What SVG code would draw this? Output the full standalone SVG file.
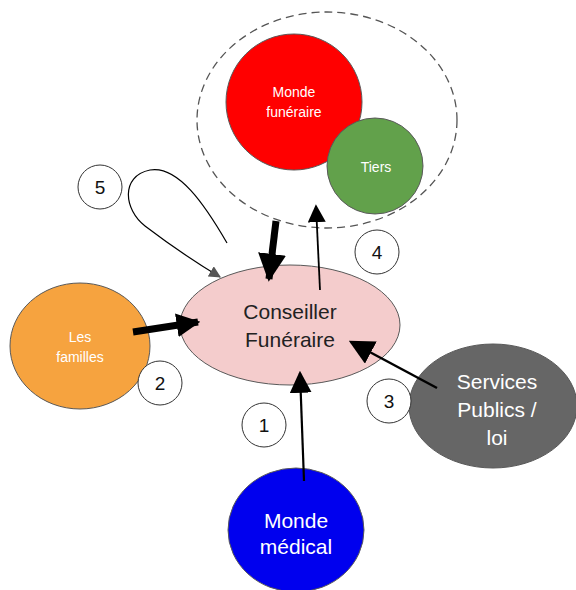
<svg xmlns="http://www.w3.org/2000/svg" width="576" height="590" viewBox="0 0 576 590">
  <defs>
    <style>
      text { font-family: "Liberation Sans", Arial, sans-serif; text-anchor: middle; }
      .node { stroke: #595959; stroke-width: 1; }
      .lbl { fill: #ffffff; }
      .num { fill: #ffffff; stroke: #333333; stroke-width: 1; }
      .numt { font-size: 19px; fill: #111111; }
      .edge { fill: none; stroke: #000000; }
    </style>
    <marker id="headBig" viewBox="0 0 10 10" refX="9" refY="5" markerWidth="3.4" markerHeight="3.4" orient="auto" markerUnits="strokeWidth">
      <path d="M0,0 L10,5 L0,10 Z" fill="#000"/>
    </marker>
    <marker id="headHuge" viewBox="0 0 10 10" refX="9" refY="5" markerWidth="4" markerHeight="4" orient="auto" markerUnits="strokeWidth">
      <path d="M0,0 L10,5 L0,10 Z" fill="#000"/>
    </marker>
    <marker id="headThin" viewBox="0 0 10 10" refX="9" refY="5" markerWidth="10" markerHeight="10" orient="auto" markerUnits="strokeWidth">
      <path d="M0,0 L10,5 L0,10 Z" fill="#000"/>
    </marker>
    <marker id="headLoop" viewBox="0 0 10 10" refX="9" refY="5" markerWidth="10" markerHeight="10" orient="auto" markerUnits="strokeWidth">
      <path d="M0,0 L10,5 L0,10 Z" fill="#555"/>
    </marker>
  </defs>

  <!-- dashed boundary around the funeral world -->
  <g id="groupe-funeraire">
    <ellipse cx="327" cy="120" rx="130" ry="108" fill="none" stroke="#555" stroke-width="1.3" stroke-dasharray="8,5"/>
  </g>

  <g id="monde-funeraire">
    <circle class="node" cx="294" cy="102" r="68" fill="#ff0000"/>
    <text class="lbl" x="294" y="97" font-size="14">Monde</text>
    <text class="lbl" x="294" y="117" font-size="14">funéraire</text>
  </g>

  <g id="tiers">
    <circle class="node" cx="375" cy="166" r="48" fill="#62a14b"/>
    <text class="lbl" x="376" y="172" font-size="14">Tiers</text>
  </g>

  <g id="conseiller">
    <ellipse class="node" cx="290" cy="325" rx="110" ry="60" fill="#f4cccc"/>
    <text x="290" y="319" font-size="21" fill="#222">Conseiller</text>
    <text x="290" y="347" font-size="21" fill="#222">Funéraire</text>
  </g>

  <g id="familles">
    <ellipse class="node" cx="80" cy="346" rx="70" ry="63" fill="#f6a33f"/>
    <text class="lbl" x="80" y="342" font-size="14">Les</text>
    <text class="lbl" x="80" y="362" font-size="14">familles</text>
  </g>

  <g id="services-publics">
    <ellipse class="node" cx="493" cy="406" rx="84" ry="62" fill="#666666"/>
    <text class="lbl" x="497" y="389" font-size="21">Services</text>
    <text class="lbl" x="497" y="417" font-size="21">Publics /</text>
    <text class="lbl" x="497" y="445" font-size="21">loi</text>
  </g>

  <g id="monde-medical">
    <ellipse class="node" cx="296" cy="530" rx="68" ry="62" fill="#0000ee"/>
    <text class="lbl" x="296" y="528" font-size="21">Monde</text>
    <text class="lbl" x="296" y="554" font-size="21">médical</text>
  </g>

  <!-- connectors -->
  <g id="connecteurs">
    <path class="edge" d="M133,332 L198,322" stroke-width="7" marker-end="url(#headBig)"/>
    <path class="edge" d="M276,221 L269,279" stroke-width="7" marker-end="url(#headHuge)"/>
    <path class="edge" d="M320,290 L316,206" stroke-width="1.8" marker-end="url(#headThin)"/>
    <path class="edge" d="M437,388 L351,342" stroke-width="2.5" marker-end="url(#headThin)"/>
    <path class="edge" d="M304,481 L300,373" stroke-width="2.2" marker-end="url(#headThin)"/>
    <path class="edge" d="M227,243 C205,205 178,165 150,170 C120,176 124,210 145,226 C170,245 195,262 220,277" stroke="#555" stroke-width="1.2" marker-end="url(#headLoop)"/>
  </g>

  <!-- numbered badges -->
  <g id="badge-1">
    <circle class="num" cx="264" cy="425" r="22"/>
    <text class="numt" x="264" y="432">1</text>
  </g>
  <g id="badge-2">
    <circle class="num" cx="160" cy="383" r="22"/>
    <text class="numt" x="160" y="390">2</text>
  </g>
  <g id="badge-3">
    <circle class="num" cx="389" cy="401" r="22"/>
    <text class="numt" x="389" y="408">3</text>
  </g>
  <g id="badge-4">
    <circle class="num" cx="377" cy="252" r="22"/>
    <text class="numt" x="377" y="259">4</text>
  </g>
  <g id="badge-5">
    <circle class="num" cx="100" cy="187" r="22"/>
    <text class="numt" x="100" y="194">5</text>
  </g>
</svg>
